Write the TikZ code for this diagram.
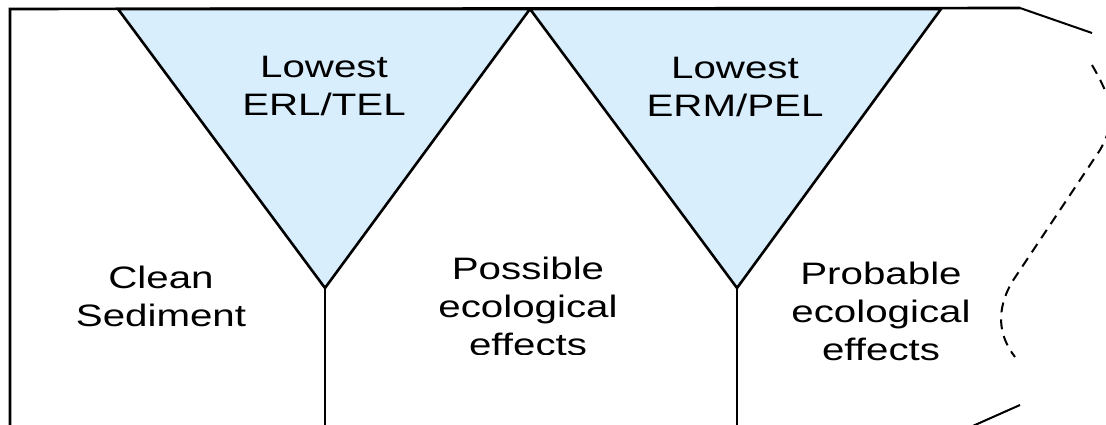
\documentclass[tikz,border=0pt]{standalone}
\usepackage{fontspec}
\setmainfont{Liberation Sans}
\definecolor{zoneblue}{RGB}{217,238,252}
% wide lettering: the labels are set in a horizontally stretched face
\newcommand\widetext[1]{\scalebox{1.3}[1]{#1}}
\begin{document}
\begin{tikzpicture}[x=1pt,y=-1pt,
  edge/.style={line width=2.6pt,line join=miter},
  tri/.style={edge,fill=zoneblue},
  tear/.style={line width=2pt},
  tearcurve/.style={line width=2pt,dash pattern=on 10pt off 7pt},
  lbl/.style={align=center,inner sep=0pt,font=\fontsize{31}{38}\selectfont}]
\useasboundingbox (0,0) rectangle (1106,425);
\clip (0,0) rectangle (1106,425);

% frame corners and tear points
\coordinate (tl) at (10,9);
\coordinate (bl) at (10,430);
\coordinate (tr) at (1020,8);
\coordinate (tearA) at (1092,33);
\coordinate (tearB) at (1020,405);
\coordinate (tearC) at (966,429);

% threshold wedges
\coordinate (t1a) at (118,9);
\coordinate (t1b) at (530,9);
\coordinate (apex1) at (325,288);
\coordinate (t2b) at (941,9);
\coordinate (apex2) at (737,288);
\coordinate (foot1) at (325,430);
\coordinate (foot2) at (737,430);

\draw[edge] (bl) -- (tl) -- (tr);
\draw[tear] (tr) -- (tearA);
\draw[tear] (tearB) -- (tearC);
\draw[tearcurve] (1092,65) .. controls (1112,100) and (1118,118) .. (1100,150)
  -- (1012,282) .. controls (996,310) and (998,335) .. (1015,357);

\draw[tri] (t1a) -- (t1b) -- (apex1) -- cycle;
\draw[tri] (t1b) -- (t2b) -- (apex2) -- cycle;
\draw[edge] (apex1) -- (foot1);
\draw[edge] (apex2) -- (foot2);

\node[lbl] (erl) at (324,86) {\widetext{Lowest}\\\widetext{ERL/TEL}};
\node[lbl] (erm) at (735,87) {\widetext{Lowest}\\\widetext{ERM/PEL}};
\node[lbl] (clean) at (161,296) {\widetext{Clean}\\\widetext{Sediment}};
\begin{scope}
  \clip (420,230) rectangle (640,354);
  \node[lbl] (possible) at (528,306) {\widetext{Possible}\\\widetext{ecological}\\\widetext{effects}};
\end{scope}
\begin{scope}
  \clip (760,230) rectangle (990,360);
  \node[lbl] (probable) at (881,311) {\widetext{Probable}\\\widetext{ecological}\\\widetext{effects}};
\end{scope}
\end{tikzpicture}
\end{document}
